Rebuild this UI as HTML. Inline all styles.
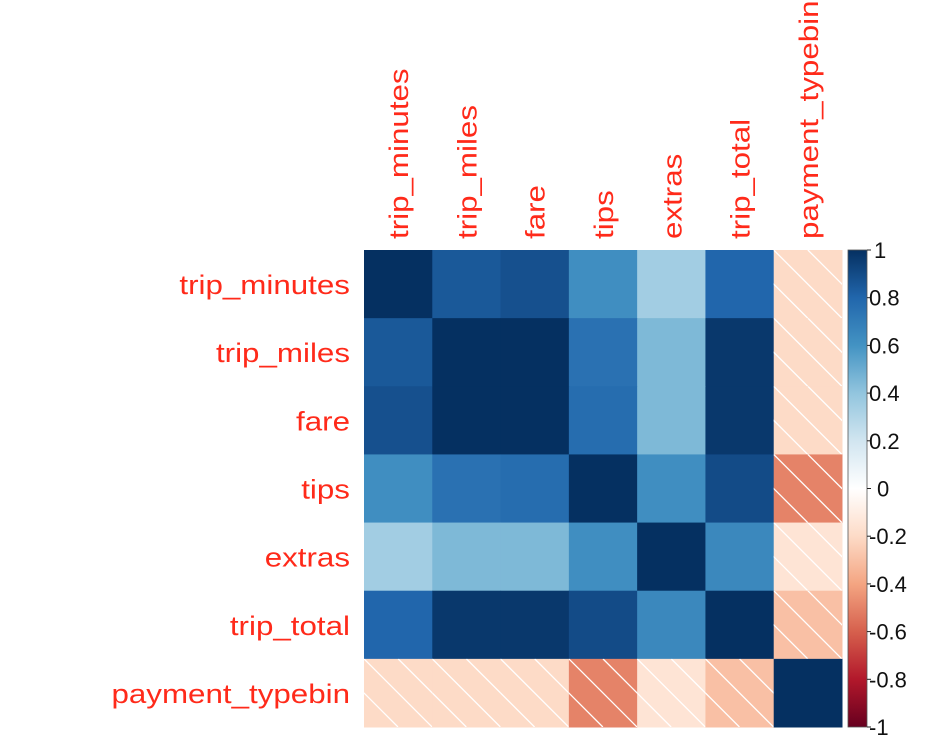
<!DOCTYPE html>
<html><head><meta charset="utf-8"><style>
body{margin:0;background:#fff;}
svg text{font-family:"Liberation Sans",Arial,sans-serif;}
</style></head><body>
<svg id="chart" width="936" height="750" xmlns="http://www.w3.org/2000/svg"></svg>
<script>
const variables = ["trip_minutes","trip_miles","fare","tips","extras","trip_total","payment_typebin"];
const row0 = [1, 0.85, 0.88, 0.62, 0.35, 0.8, -0.2];
const row1 = [0.85, 1, 1, 0.75, 0.45, 0.97, -0.2];
const row2 = [0.88, 1, 1, 0.77, 0.45, 0.97, -0.2];
const row3 = [0.62, 0.75, 0.77, 1, 0.62, 0.9, -0.5];
const row4 = [0.35, 0.45, 0.45, 0.62, 1, 0.65, -0.15];
const row5 = [0.8, 0.97, 0.97, 0.9, 0.65, 1, -0.3];
const row6 = [-0.2, -0.2, -0.2, -0.5, -0.15, -0.3, 1];
const matrix = [row0,row1,row2,row3,row4,row5,row6];
const colorTicks = ["1","0.8","0.6","0.4","0.2","0","-0.2","-0.4","-0.6","-0.8","-1"];
const tickValues = [1,0.8,0.6,0.4,0.2,0,-0.2,-0.4,-0.6,-0.8,-1];

const NS="http://www.w3.org/2000/svg";
const svg=document.getElementById('chart');
const L=364,T=250,R=842,B=727;
const n=variables.length, cw=(R-L)/n, ch=(B-T)/n;
const xs=i=>L+i*cw, ys=j=>T+j*ch;
const pal=["#67001F","#B2182B","#D6604D","#F4A582","#FDDBC7","#FFFFFF","#D1E5F0","#92C5DE","#4393C3","#2166AC","#053061"];
function hex(h){return [1,3,5].map(k=>parseInt(h.substr(k,2),16));}
function color(v){const t=(v+1)/2*(pal.length-1);const i=Math.min(pal.length-2,Math.floor(t));const f=t-i;
const a=hex(pal[i]),b=hex(pal[i+1]);return "rgb("+a.map((c,k)=>Math.round(c+(b[k]-c)*f)).join(",")+")";}
function el(tag,attrs,parent){const e=document.createElementNS(NS,tag);for(const k in attrs)e.setAttribute(k,attrs[k]);(parent||svg).appendChild(e);return e;}
function stretch(t,f){const w=t.getComputedTextLength();t.setAttribute('textLength',w*f);t.setAttribute('lengthAdjust','spacingAndGlyphs');}
const defs=el('defs',{});
for(let r=0;r<n;r++)for(let c=0;c<n;c++){
  const v=matrix[r][c],x=xs(c),y=ys(r);
  const cell=el('rect',{x:x,y:y,width:cw+0.5,height:ch+0.5,fill:color(v)});
  
  
  if(v<0){
    const cp=el('clipPath',{id:'cp'+r+'_'+c},defs);
    el('rect',{x:x,y:y,width:cw,height:ch},cp);
    const g=el('g',{'clip-path':'url(#cp'+r+'_'+c+')'});
    
    
    for(const k of [-cw/2,0,cw/2]){
      el('line',{x1:x+k,y1:y,x2:x+k+ch,y2:y+ch,stroke:'#fff','stroke-width':1.3},g);
    }
  }
}
variables.forEach((name,i)=>{
  const t=el('text',{x:350,y:ys(i)+ch/2+10,'text-anchor':'end','font-size':27,fill:'#FF2A1A'});
  t.textContent=name;
  
  
  stretch(t,1.16);
  const cx=xs(i)+cw/2+10;
  const t2=el('text',{x:0,y:0,transform:'translate('+cx+',239) rotate(-90)','font-size':27,fill:'#FF2A1A'});
  t2.textContent=name;
  
  
  stretch(t2,1.16);
});
const cbx=848,cbw=19;
const gr=el('linearGradient',{id:'cbg',x1:0,y1:0,x2:0,y2:1},defs);
pal.slice().reverse().forEach((c,i)=>el('stop',{offset:i/(pal.length-1),'stop-color':c},gr));
const cb=el('rect',{x:cbx,y:T,width:cbw,height:B-T,fill:'url(#cbg)',stroke:'#555','stroke-width':0.8});


const yv=v=>T+(1-v)/2*(B-T);
tickValues.forEach((v,i)=>{
  el('line',{x1:cbx+cbw,x2:cbx+cbw+4,y1:yv(v),y2:yv(v),stroke:'#222','stroke-width':1});
  const t=el('text',{x:v===0?877:(v===1?874:869),y:yv(v)+8,'font-size':22,fill:'#111'});
  t.textContent=colorTicks[i];
  
  
});
</script>
</body></html>
